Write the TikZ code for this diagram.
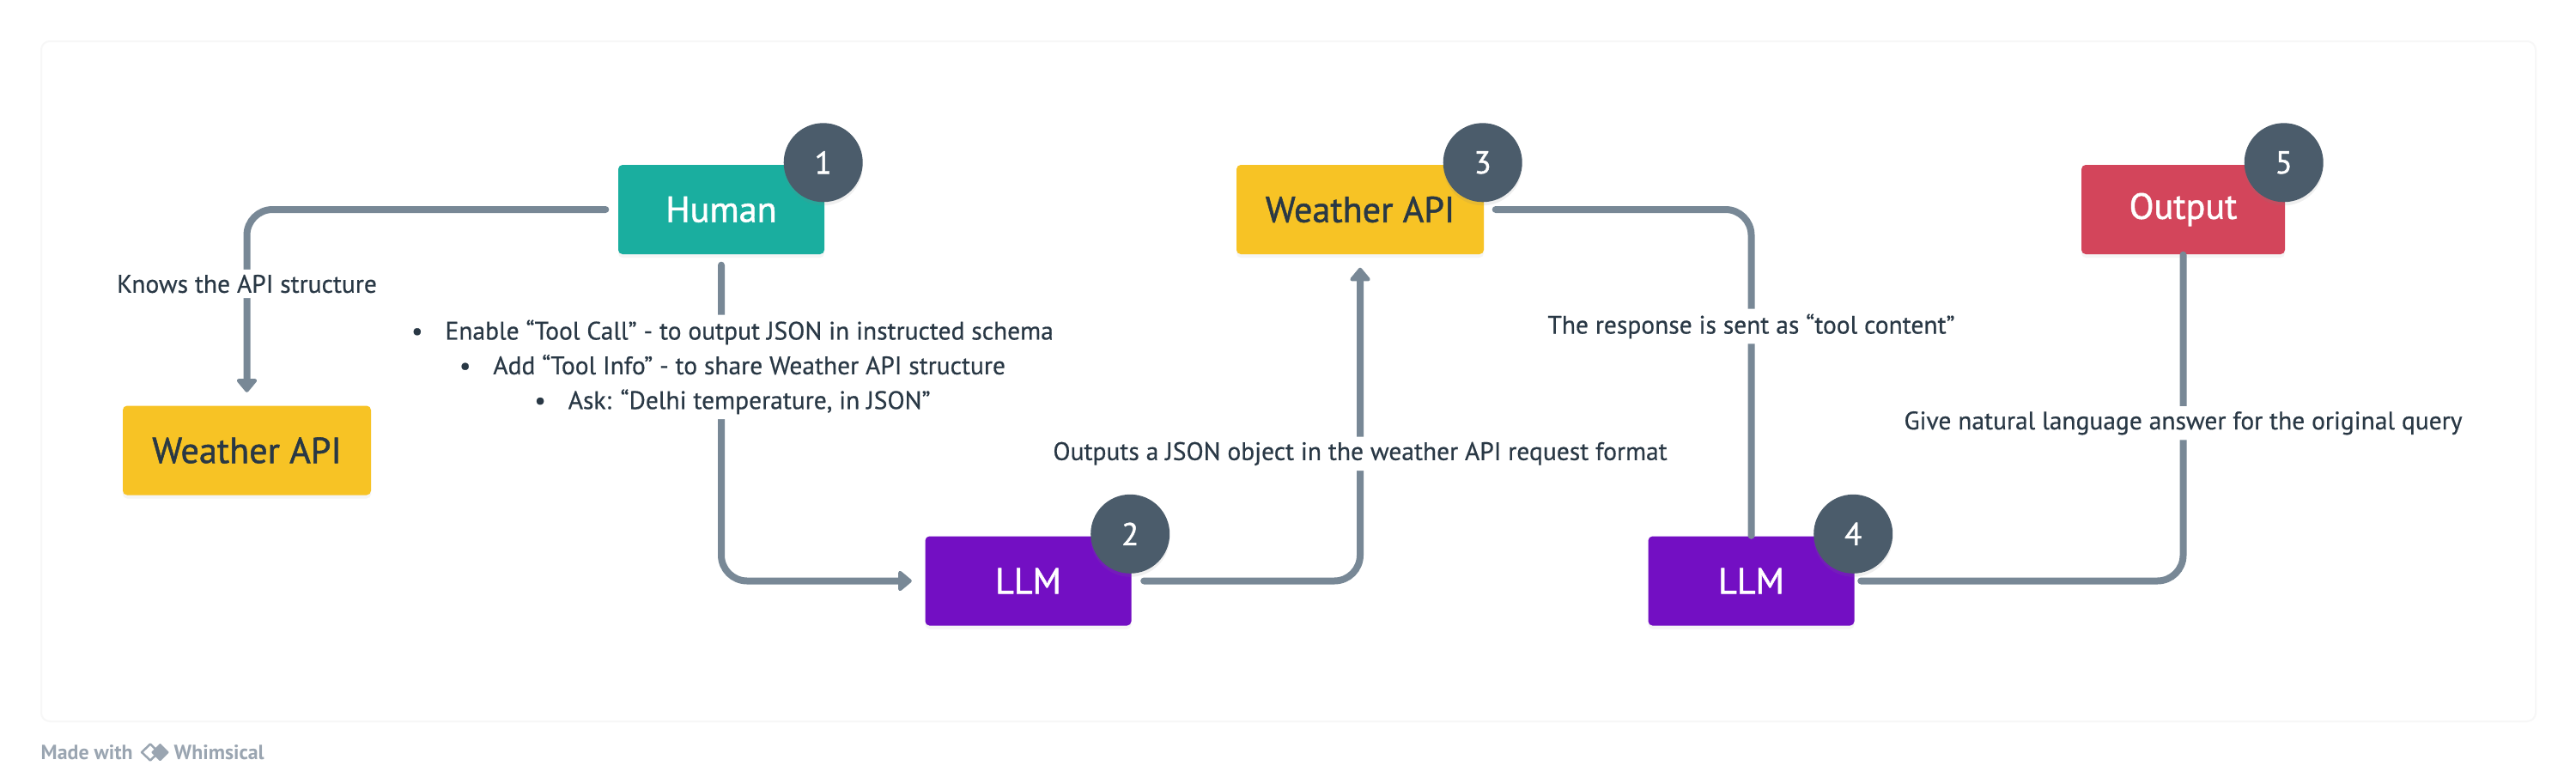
\documentclass[tikz,border=0pt]{standalone}
\usepackage{fontspec}
\setmainfont{PT Sans}
\newfontfamily\boxfont{PT Sans}[FakeBold=1.2]
\newfontfamily\lblfont{PT Sans}[FakeBold=0.5]
\usetikzlibrary{arrows.meta, positioning, calc, shadows}

\definecolor{humteal}{HTML}{1AAE9F}
\definecolor{apiyel}{HTML}{F7C325}
\definecolor{llmpur}{HTML}{730FC3}
\definecolor{outred}{HTML}{D3455B}
\definecolor{numgray}{HTML}{4B5C6B}
\definecolor{txtdark}{HTML}{293845}
\definecolor{lnkgray}{HTML}{788896}
\definecolor{footgray}{HTML}{9AA5B1}

\begin{document}
\begin{tikzpicture}[
  box/.style={minimum width=2.4cm, minimum height=1.04cm, inner sep=0pt,
    rounded corners=0.05cm, font=\boxfont\fontsize{12}{14}\selectfont,
    drop shadow={opacity=0.08, shadow xshift=0pt, shadow yshift=-0.04cm}},
  badge/.style={circle, fill=numgray, text=white, minimum size=0.92cm, inner sep=0pt,
    font=\boxfont\fontsize{10.5}{12}\selectfont,
    drop shadow={opacity=0.12, shadow xshift=0pt, shadow yshift=-0.04cm}},
  link/.style={draw=lnkgray, line width=0.08cm, line cap=round, rounded corners=0.3cm},
  tip/.style={-{Triangle[width=0.27cm, length=0.17cm, round]}, shorten >=0.15cm},
  lbl/.style={fill=white, text=txtdark, inner sep=0.06cm, font=\lblfont\fontsize{8.4}{11.5}\selectfont},
  foot/.style={text=footgray, inner sep=0pt, font=\fontsize{6.8}{8}\selectfont\bfseries}
]
  \useasboundingbox (0,0) rectangle (30,-9.12);
  \fill[white] (0,0) rectangle (30,-9.12);

  % Fond
  \draw[draw=black!3, fill=white, line width=0.02cm, rounded corners=0.1cm] (0.48,-0.48) rectangle (29.53,-8.40);

  % Boites
  \node[box, fill=humteal, text=white] (human) at (8.40,-2.44) {Human};
  \node[box, fill=apiyel, text=txtdark, minimum width=2.89cm] (apiL) at (2.875,-5.245) {Weather API};
  \node[box, fill=llmpur, text=white] (llmA) at (11.975,-6.765) {LLM};
  \node[box, fill=apiyel, text=txtdark, minimum width=2.88cm] (apiR) at (15.84,-2.44) {Weather API};
  \node[box, fill=llmpur, text=white] (llmB) at (20.395,-6.765) {LLM};
  \node[box, fill=outred, text=white, minimum width=2.37cm] (out) at (25.425,-2.44) {Output};

  % Connecteurs
  \draw[link, tip, shorten <=0.14cm] (human.west) -| node[lbl, pos=0.69] {Knows the API structure} (apiL.north);
  \draw[link, tip, shorten <=0.12cm] (human.south) |- node[lbl, pos=0.172, xshift=0.13cm, align=center]
    {•\hspace{0.26cm}Enable “Tool Call” - to output JSON in instructed schema\\
     •\hspace{0.26cm}Add “Tool Info” - to share Weather API structure\\
     •\hspace{0.26cm}Ask: “Delhi temperature, in JSON”} (llmA.west);
  \draw[link, tip, shorten <=0.14cm] (llmA.east) -| node[lbl, pos=0.695] {Outputs a JSON object in the weather API request format} (apiR.south);
  \draw[link, shorten <=0.13cm] (apiR.east) -| node[lbl, pos=0.679] {The response is sent as “tool content”} (llmB.north);
  \draw[link, shorten <=0.07cm] (llmB.east) -| node[lbl, pos=0.742] {Give natural language answer for the original query} (out.south);

  % Numeros
  \node[badge] (n1) at ([shift={(-0.02,0.02)}]human.north east) {1};
  \node[badge] (n2) at ([shift={(-0.02,0.02)}]llmA.north east) {2};
  \node[badge] (n3) at ([shift={(-0.02,0.02)}]apiR.north east) {3};
  \node[badge] (n4) at ([shift={(-0.02,0.02)}]llmB.north east) {4};
  \node[badge] (n5) at ([shift={(-0.02,0.02)}]out.north east) {5};

  % Pied de page
  \node[foot, anchor=west] (made) at (0.47,-8.76) {Made with};
  \draw[footgray, line width=0.025cm, line join=round] (1.65,-8.76) -- (1.75,-8.665) -- (1.85,-8.76) -- (1.75,-8.855) -- cycle;
  \fill[footgray, rounded corners=0.01cm] (1.76,-8.76) -- (1.865,-8.655) -- (1.97,-8.76) -- (1.865,-8.865) -- cycle;
  \node[foot, anchor=west] (whim) at (2.02,-8.76) {Whimsical};
\end{tikzpicture}
\end{document}
